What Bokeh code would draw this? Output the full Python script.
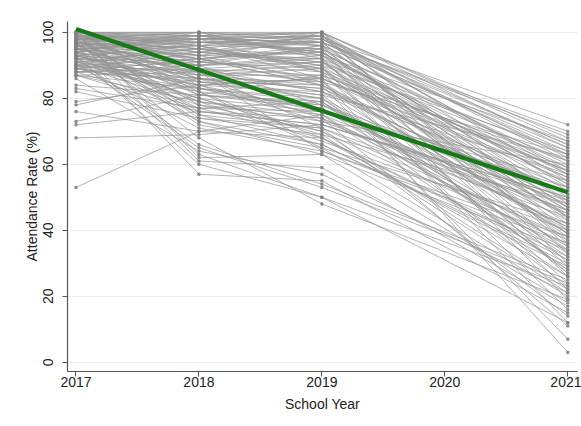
from bokeh.plotting import figure
from bokeh.models import FixedTicker, Range1d
from bokeh.embed import file_html
from bokeh.resources import INLINE

years = [2017, 2018, 2019, 2021]
tick_years = [2017, 2018, 2019, 2020, 2021]
y_ticks = [0, 20, 40, 60, 80, 100]

y2017 = [99, 100, 98, 97, 100, 99, 96, 98, 95, 97, 100, 94, 99, 96, 93, 98, 92, 97, 95, 91,
         99, 94, 90, 96, 93, 89, 98, 92, 88, 95, 91, 87, 97, 90, 99, 88, 94, 89, 100, 92,
         87, 96, 90, 93, 88, 98, 91, 95, 89, 99, 94, 87, 97, 90, 84, 83, 82, 79, 78, 76,
         73, 72, 68, 53, 100, 98, 96, 93, 99, 95, 91, 92, 97, 100, 86, 99, 100, 98, 97, 100,
         99, 96, 98, 95, 100, 97, 99, 94, 96, 100, 93, 98, 92, 97, 89, 95, 91, 99, 88, 94,
         90, 97, 93, 100, 89, 96, 92, 98, 94, 87, 99, 95, 91, 100, 93, 97, 90, 98, 94, 99,
         96, 100, 92, 97, 95, 99, 88, 93, 100, 98, 90, 95]
y2018 = [99, 100, 100, 98, 97, 98, 99, 96, 97, 95, 99, 96, 94, 98, 95, 92, 94, 93, 91, 93,
         90, 89, 92, 88, 90, 91, 87, 88, 89, 86, 87, 88, 85, 84, 83, 86, 82, 85, 81, 80,
         83, 79, 78, 84, 77, 76, 80, 75, 82, 74, 73, 79, 72, 71, 81, 77, 74, 84, 86, 70,
         81, 76, 69, 70, 62, 61, 57, 60, 92, 96, 65, 66, 68, 63, 64, 100, 99, 97, 99, 98,
         96, 97, 100, 98, 95, 94, 97, 99, 93, 91, 96, 95, 90, 92, 94, 90, 95, 93, 92, 87,
         86, 89, 85, 84, 83, 81, 79, 78, 77, 76, 75, 88, 84, 82, 80, 73, 97, 98, 100, 94,
         91, 96, 98, 89, 92, 86, 90, 83, 100, 99, 88, 86]
y2019 = [100, 99, 100, 99, 96, 97, 98, 100, 95, 99, 94, 97, 92, 100, 93, 96, 90, 98, 89, 94,
         91, 87, 95, 86, 92, 88, 84, 90, 85, 83, 89, 82, 80, 86, 79, 81, 78, 84, 77, 76,
         80, 75, 74, 73, 79, 72, 70, 71, 68, 69, 66, 67, 65, 64, 78, 76, 71, 82, 85, 68,
         87, 74, 72, 75, 63, 59, 55, 50, 84, 86, 53, 54, 48, 50, 57, 98, 100, 97, 96, 99,
         95, 98, 93, 97, 91, 99, 94, 96, 92, 95, 88, 90, 93, 86, 91, 96, 89, 85, 94, 87,
         83, 82, 81, 86, 77, 79, 73, 70, 68, 72, 66, 64, 76, 65, 69, 63, 99, 88, 92, 97,
         100, 89, 94, 91, 84, 80, 78, 75, 97, 93, 71, 74]
y2021 = [67, 62, 55, 48, 65, 40, 58, 44, 60, 36, 52, 63, 46, 30, 57, 50, 42, 66, 38, 54,
         61, 34, 47, 56, 27, 59, 45, 64, 39, 53, 24, 49, 43, 58, 35, 62, 41, 51, 31, 55,
         28, 46, 37, 60, 33, 50, 22, 44, 26, 48, 30, 40, 20, 36, 52, 45, 38, 57, 63, 32,
         58, 42, 49, 34, 18, 17, 15, 12, 7, 3, 24, 25, 19, 23, 21, 72, 68, 66, 64, 61,
         59, 53, 47, 43, 39, 35, 29, 26, 22, 19, 16, 12, 37, 51, 56, 33, 44, 27, 49, 61,
         47, 39, 28, 55, 41, 23, 46, 36, 31, 50, 29, 38, 53, 42, 21, 34, 57, 46, 63, 69,
         65, 58, 54, 44, 40, 32, 48, 26, 70, 67, 14, 11]

fit_years = [2017, 2021]
fit_values = [101, 51.5]

xs = [years for _ in y2017]
ys = [[a, b, c, d] for a, b, c, d in zip(y2017, y2018, y2019, y2021)]

px = [yr for row in xs for yr in row]
py = [v for row in ys for v in row]

FONT = "Liberation Sans"

p = figure(width=581, height=420, output_backend="svg", toolbar_location=None,
           x_range=Range1d(2016.931, 2021.079), y_range=Range1d(-2.8, 103.3),
           min_border_left=67, min_border_right=4, min_border_top=21, min_border_bottom=49)
p.background_fill_color = "white"
p.border_fill_color = "white"
p.outline_line_color = None

p.multi_line(xs=xs, ys=ys, line_color="#959595", line_width=0.8, line_alpha=0.9)
p.scatter(px, py, marker="square", size=2.2, color="#858585", alpha=0.85)
p.line(fit_years, fit_values, line_color="#167a16", line_width=4.2)

p.xgrid.grid_line_color = None
p.ygrid.grid_line_color = "#ececec"
p.ygrid.grid_line_width = 1

p.xaxis.ticker = FixedTicker(ticks=tick_years)
p.yaxis.ticker = FixedTicker(ticks=y_ticks)
p.xaxis.axis_label = "School Year"
p.yaxis.axis_label = "Attendance Rate (%)"

for ax in (p.xaxis[0], p.yaxis[0]):
    ax.axis_line_color = "#555555"
    ax.axis_line_width = 1.2
    ax.major_tick_line_color = "#555555"
    ax.major_tick_in = 0
    ax.major_tick_out = 5
    ax.minor_tick_line_color = None
    ax.major_label_text_font = FONT
    ax.major_label_text_font_size = "14px"
    ax.major_label_text_color = "#222222"
    ax.axis_label_text_font = FONT
    ax.axis_label_text_font_size = "14px"
    ax.axis_label_text_font_style = "normal"
    ax.axis_label_text_color = "#222222"

p.yaxis.major_label_orientation = "vertical"
p.yaxis.major_label_standoff = 9
p.yaxis.axis_label_standoff = 1
p.xaxis.major_label_standoff = 0
p.xaxis.axis_label_standoff = 6

open("out.html", "w").write(file_html(p, INLINE))
